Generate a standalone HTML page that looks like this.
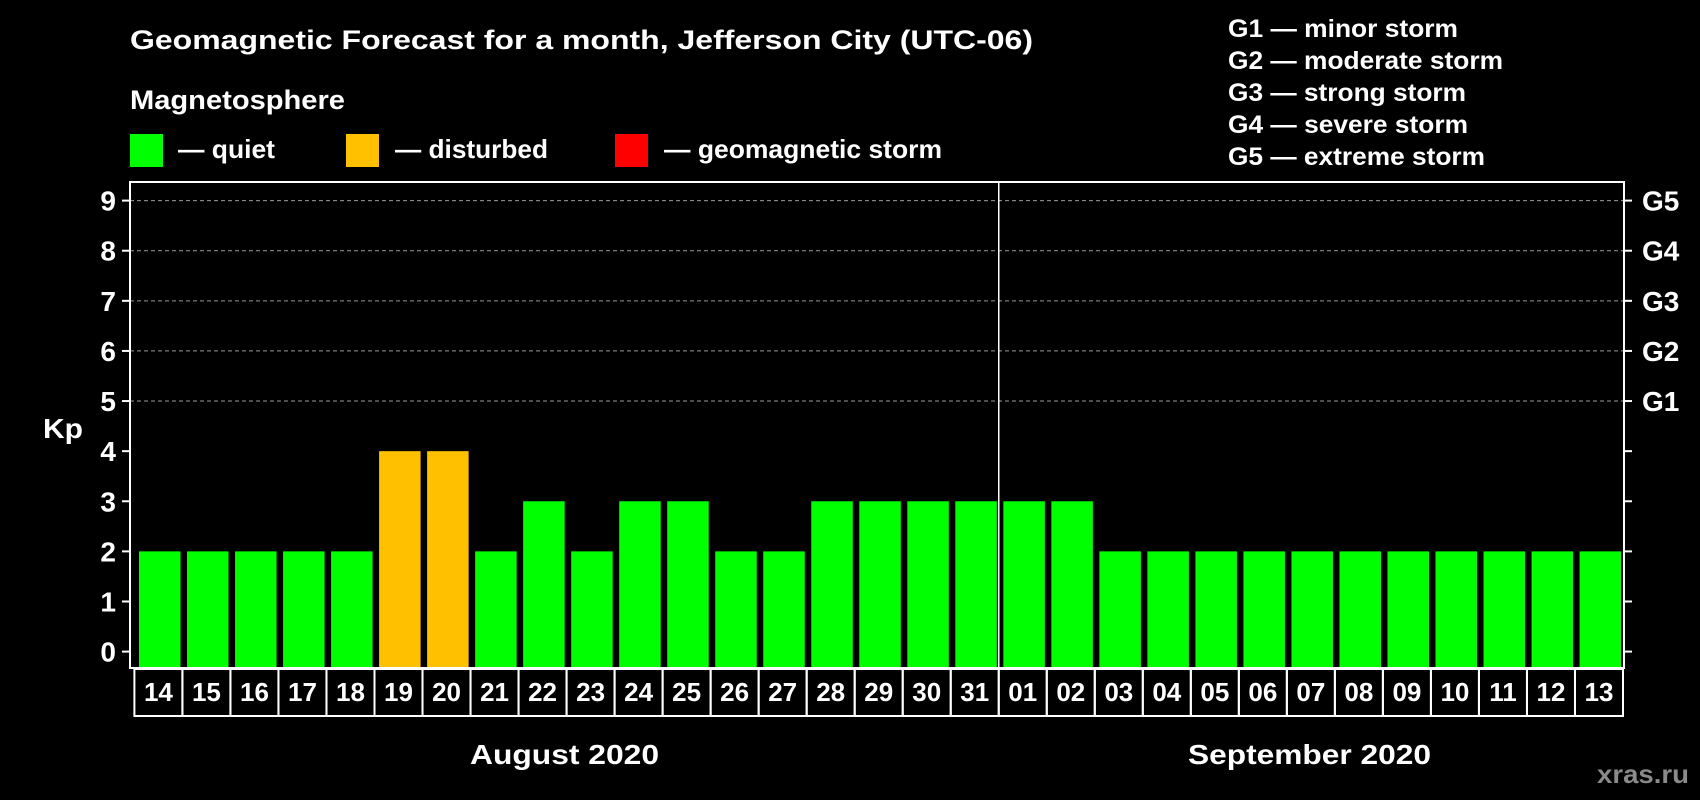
<!DOCTYPE html>
<html><head><meta charset="utf-8"><style>
html,body{margin:0;padding:0;background:#000;}
svg{display:block;font-family:"Liberation Sans",Arial,sans-serif;font-weight:bold;}
</style></head><body>
<svg id="chart" width="1700" height="800" viewBox="0 0 1700 800">
<text x="130" y="49" fill="#fff" font-size="27" textLength="903" lengthAdjust="spacingAndGlyphs">Geomagnetic Forecast for a month, Jefferson City (UTC-06)</text>
<text x="130" y="109" fill="#fff" font-size="27" textLength="215" lengthAdjust="spacingAndGlyphs">Magnetosphere</text>
<rect x="130" y="134" width="33" height="33" fill="#00ff00"/>
<text x="178" y="158" fill="#fff" font-size="26" textLength="97" lengthAdjust="spacingAndGlyphs">— quiet</text>
<rect x="346" y="134" width="33" height="33" fill="#ffc000"/>
<text x="395" y="158" fill="#fff" font-size="26" textLength="153" lengthAdjust="spacingAndGlyphs">— disturbed</text>
<rect x="615" y="134" width="33" height="33" fill="#ff0000"/>
<text x="664" y="158" fill="#fff" font-size="26" textLength="278" lengthAdjust="spacingAndGlyphs">— geomagnetic storm</text>
<g fill="#fff" font-size="25">
<text x="1228" y="37" textLength="230" lengthAdjust="spacingAndGlyphs">G1 — minor storm</text>
<text x="1228" y="69" textLength="275" lengthAdjust="spacingAndGlyphs">G2 — moderate storm</text>
<text x="1228" y="101" textLength="238" lengthAdjust="spacingAndGlyphs">G3 — strong storm</text>
<text x="1228" y="133" textLength="240" lengthAdjust="spacingAndGlyphs">G4 — severe storm</text>
<text x="1228" y="165" textLength="257" lengthAdjust="spacingAndGlyphs">G5 — extreme storm</text>
</g>
<text x="43" y="438" fill="#fff" font-size="28" textLength="40" lengthAdjust="spacingAndGlyphs">Kp</text>
<g id="plot"></g>
<text x="470" y="764" fill="#fff" font-size="28" textLength="189" lengthAdjust="spacingAndGlyphs">August 2020</text>
<text x="1188" y="764" fill="#fff" font-size="28" textLength="243" lengthAdjust="spacingAndGlyphs">September 2020</text>
<text x="1597" y="783" fill="#8a8a8a" font-size="26" textLength="92" lengthAdjust="spacingAndGlyphs">xras.ru</text>
</svg>
<script>
const days = ["14","15","16","17","18","19","20","21","22","23","24","25","26","27","28","29","30","31","01","02","03","04","05","06","07","08","09","10","11","12","13"];
const kpValues = [2,2,2,2,2,4,4,2,3,2,3,3,2,2,3,3,3,3,3,3,2,2,2,2,2,2,2,2,2,2,2];
const yTicks = [0,1,2,3,4,5,6,7,8,9];
const gLabels = ["G1","G2","G3","G4","G5"];
const gLevels = [5,6,7,8,9];
const monthSplitIndex = 18;

const NS = "http://www.w3.org/2000/svg";
const plot = document.getElementById("plot");
const L = 130, R = 1624, T = 182, B = 668;
const y0 = 651.6, unit = (651.6 - 200.6) / 9;
const x0 = 134.4, step = (1623 - 134.4) / days.length;
const barW = 41.5;
function yScale(v){ return y0 - v * unit; }
function xScale(i){ return x0 + i * step; }
function mk(tag, attrs){ const e = document.createElementNS(NS, tag); for (const k in attrs) e.setAttribute(k, attrs[k]); plot.appendChild(e); return e; }
function color(v){ return v >= 5 ? "#ff0000" : (v >= 4 ? "#ffc000" : "#00ff00"); }

yTicks.forEach(t => {
  const y = yScale(t);
  if (t >= 5) {
    const g = mk("line", {x1: L, x2: R, y1: y, y2: y, stroke: "#9a9a9a", "stroke-width": 1, "stroke-dasharray": "4,3"});
    
    
  }
  const tl = mk("line", {x1: L - 8, x2: L, y1: y, y2: y, stroke: "#fff", "stroke-width": 2});
  
  
  const tr = mk("line", {x1: R, x2: R + 8, y1: y, y2: y, stroke: "#fff", "stroke-width": 2});
  
  
  const lab = mk("text", {x: 116, y: y + 10, fill: "#fff", "font-size": 28, "text-anchor": "end"});
  lab.textContent = t;
  
  
});
gLabels.forEach((g, i) => {
  const t = mk("text", {x: 1642, y: yScale(gLevels[i]) + 10, fill: "#fff", "font-size": 28});
  t.textContent = g;
  
  
});
kpValues.forEach((v, i) => {
  const bx = xScale(i) + 4.6;
  const b = mk("rect", {x: bx, y: yScale(v), width: barW, height: B - yScale(v), fill: color(v)});
  
  
  const box = mk("rect", {x: xScale(i), y: 669, width: step, height: 47, fill: "none", stroke: "#fff", "stroke-width": 2});
  
  
  const dl = mk("text", {x: xScale(i) + step / 2, y: 701, fill: "#fff", "font-size": 26, "text-anchor": "middle"});
  dl.textContent = days[i];
  
  
});
const sx = xScale(monthSplitIndex);
const div = mk("line", {x1: sx, x2: sx, y1: T, y2: B, stroke: "#fff", "stroke-width": 1.5});


const frame = mk("rect", {x: L, y: T, width: R - L, height: B - T, fill: "none", stroke: "#fff", "stroke-width": 2});


</script>
</body></html>
